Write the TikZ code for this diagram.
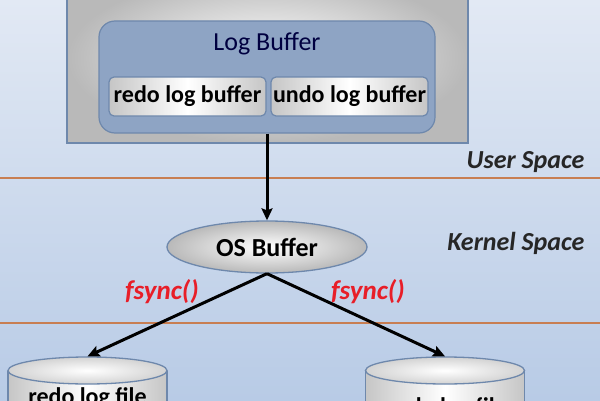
\documentclass[tikz,border=0pt]{standalone}
\usepackage{fontspec}
\setmainfont{Carlito}
\usetikzlibrary{shapes.geometric,arrows.meta,positioning}
\definecolor{bgtop}{RGB}{226,233,244}
\definecolor{bgbot}{RGB}{184,203,230}
\definecolor{edgeblue}{RGB}{110,136,172}
\definecolor{logblue}{RGB}{142,164,196}
\definecolor{sepline}{RGB}{200,126,82}
\definecolor{callred}{RGB}{232,30,40}
\begin{document}
\begin{tikzpicture}[x=1pt, y=1pt,
    >={Stealth[length=12pt,width=11pt,inset=2pt]},
    bufbox/.style={draw=edgeblue, line width=1.2pt, rounded corners=5pt, inner sep=0pt,
        minimum width=157pt, minimum height=39pt,
        left color=gray!45, right color=gray!45, middle color=white,
        font=\fontsize{24}{28}\selectfont\bfseries},
    diskbody/.style={draw=edgeblue, line width=1.3pt, minimum width=159pt, minimum height=80pt,
        left color=gray!45, right color=gray!45, middle color=white, anchor=north},
    disktop/.style={ellipse, draw=edgeblue, line width=1.3pt, minimum width=159pt, minimum height=27pt,
        inner sep=0pt, inner color=white, outer color=gray!35},
    spacelabel/.style={font=\fontsize{26}{30}\selectfont\bfseries\itshape, text=black!85, anchor=east},
    calllabel/.style={font=\fontsize{27}{31}\selectfont\bfseries\itshape, text=callred},
    filetext/.style={font=\fontsize{24}{28}\selectfont\bfseries},
    link/.style={->, line width=3pt}]
    \useasboundingbox (0,0) rectangle (600,400);
    \clip (0,0) rectangle (600,400);
    \shade[top color=bgtop, bottom color=bgbot] (0,0) rectangle (600,400);

    % Boundaries
    \draw[sepline, line width=2pt] (0,222) -- (600,222);
    \draw[sepline, line width=2pt] (0,77) -- (600,77);

    % User space
    \node[draw=edgeblue, line width=1.2pt, inner color=white, outer color=gray!55,
        minimum width=401pt, minimum height=170pt] (process) at (267.5,342) {};
    \node[draw=edgeblue, line width=1.2pt, fill=logblue, rounded corners=16pt,
        minimum width=336pt, minimum height=112pt] (logbuf) at (267,323) {};
    \node[font=\fontsize{26}{30}\selectfont, text=black!75!blue] (logtitle) at (267,356) {Log Buffer};
    \node[bufbox] (redobuf) at (187.5,303.5) {redo log buffer};
    \node[bufbox] (undobuf) at (349.5,303.5) {undo log buffer};
    \node[spacelabel] (userspace) at (588,238) {User Space};

    % Kernel space
    \node[ellipse, draw=edgeblue, line width=1.3pt, inner color=white, outer color=gray!55,
        minimum width=200pt, minimum height=52pt, inner sep=0pt,
        font=\fontsize{26}{30}\selectfont\bfseries] (osbuf) at (267,153) {OS Buffer};
    \node[spacelabel] (kernelspace) at (588,157) {Kernel Space};
    \node[calllabel] (syncleft) at (162,108) {fsync()};
    \node[calllabel] (syncright) at (368,108) {fsync()};

    % Disk files
    \node[diskbody] (redobody) at (87.5,29.5) {};
    \node[disktop] (redotop) at (87.5,29.5) {};
    \node[diskbody] (undobody) at (445,29.5) {};
    \node[disktop] (undotop) at (445,29.5) {};
    \node[filetext] (redotext) at (87.5,2) {redo log file};
    \node[filetext] (undotext) at (445,-8) {undo log file};

    % Connections
    \draw[link] (logbuf.south) -- (osbuf.north);
    \draw[link] (osbuf.south) -- (redotop.north);
    \draw[link] (osbuf.south) -- (undotop.north);
\end{tikzpicture}
\end{document}
